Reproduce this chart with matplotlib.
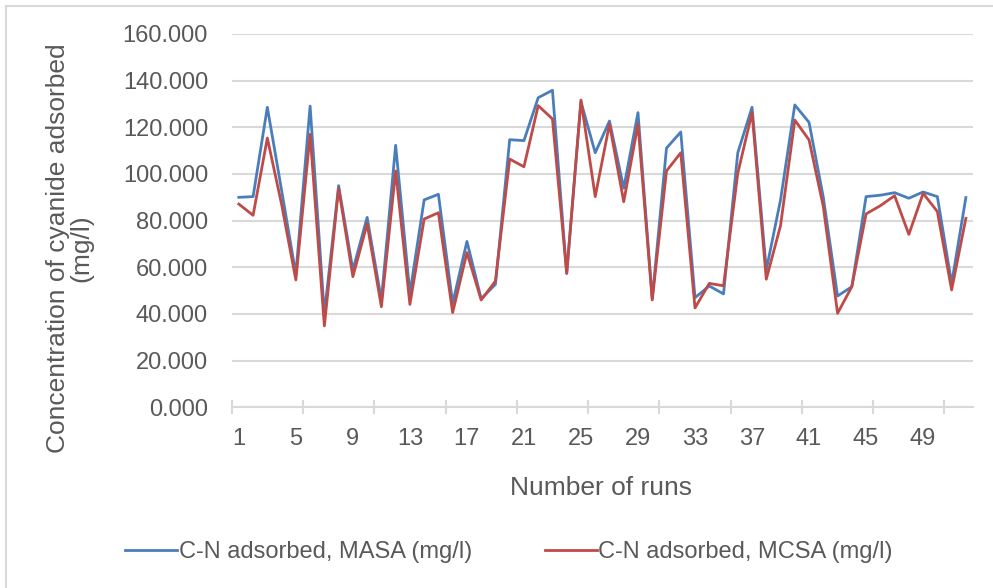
import matplotlib
matplotlib.use('Agg')
import matplotlib.pyplot as plt
from matplotlib.ticker import FormatStrFormatter, FixedLocator

runs = list(range(1, 53))
masa = [90.0, 90.3, 128.6, 93.0, 57.0, 129.1, 40.0, 95.0, 58.9, 81.4,
        46.0, 112.3, 48.9, 88.9, 91.3, 44.6, 71.1, 46.5, 52.7, 114.7,
        114.3, 132.7, 135.9, 57.4, 131.0, 109.1, 122.7, 93.9, 126.3, 46.5,
        111.1, 118.0, 47.0, 52.0, 48.6, 109.1, 128.6, 58.9, 88.9, 129.6,
        122.1, 90.0, 47.7, 51.7, 90.3, 90.9, 92.0, 89.6, 92.3, 90.3,
        53.1, 89.9]
mcsa = [87.1, 82.3, 115.4, 87.0, 54.6, 117.0, 34.9, 93.9, 56.0, 78.6,
        43.1, 101.3, 44.1, 80.7, 83.4, 40.6, 66.3, 46.0, 54.1, 106.4,
        103.1, 129.3, 123.6, 57.4, 131.7, 90.3, 121.4, 88.1, 121.3, 46.0,
        101.3, 109.1, 42.6, 53.1, 52.1, 100.3, 126.3, 54.9, 77.9, 123.1,
        114.6, 86.0, 40.3, 51.7, 82.9, 86.4, 90.7, 74.1, 91.7, 83.9,
        50.3, 81.0]
tick_runs = list(range(1, 53, 4))
y_ticks = list(range(0, 161, 20))

plt.rcParams['font.family'] = ['Liberation Sans', 'DejaVu Sans']
grey = '#595959'
grid = '#d9d9d9'

W, H = 993, 588
fig = plt.figure(figsize=(W / 100, H / 100), dpi=100)
ax = fig.add_axes([231.7 / W, 1 - 407.3 / H, (973 - 231.7) / W, (407.3 - 34) / H])

# border of the chart area (only left and top show)
fig.add_artist(plt.Line2D([6 / W, 6 / W], [0, 1 - 6 / H], color=grid, lw=1.5))
fig.add_artist(plt.Line2D([6 / W, 1], [1 - 6 / H, 1 - 6 / H], color=grid, lw=1.5))

ax.plot(runs, masa, color='#4a7ebb', lw=2.0, label='C-N adsorbed, MASA (mg/l)')
ax.plot(runs, mcsa, color='#be4b48', lw=2.0, label='C-N adsorbed, MCSA (mg/l)')

ax.set_xlim(0.5, 52.5)
ax.set_ylim(0, 160)
ax.set_yticks(y_ticks)
ax.yaxis.set_major_formatter(FormatStrFormatter('%.3f'))
ax.set_xticks(tick_runs)
ax.xaxis.set_minor_locator(FixedLocator([b + 0.5 for b in range(0, 52, 5)]))

ax.grid(axis='y', color=grid, lw=1.5)
ax.set_axisbelow(True)
for s in ['top', 'right', 'left']:
    ax.spines[s].set_visible(False)
ax.spines['bottom'].set_color(grid)
ax.spines['bottom'].set_linewidth(1.5)

ax.tick_params(axis='y', length=0, pad=17, labelsize=17, labelcolor=grey)
ax.tick_params(axis='x', which='major', length=0, pad=15, labelsize=17, labelcolor=grey)
ax.tick_params(axis='x', which='minor', direction='inout', length=10, width=1.5, color=grid)

fig.text(601 / W, 1 - 488 / H, 'Number of runs', ha='center', va='center',
         fontsize=19, color=grey)
fig.text(70 / W, 1 - 248 / H, 'Concentration of cyanide adsorbed\n(mg/l)',
         rotation=90, ha='center', va='center', ma='center', fontsize=19,
         color=grey, linespacing=0.95)

fig.legend(loc='center', bbox_to_anchor=(509 / W, 1 - 552 / H), ncol=2,
           frameon=False, fontsize=17, handlelength=2.2, handletextpad=0.05,
           columnspacing=3.1, labelcolor=grey)

fig.savefig('out.png', dpi=100)
